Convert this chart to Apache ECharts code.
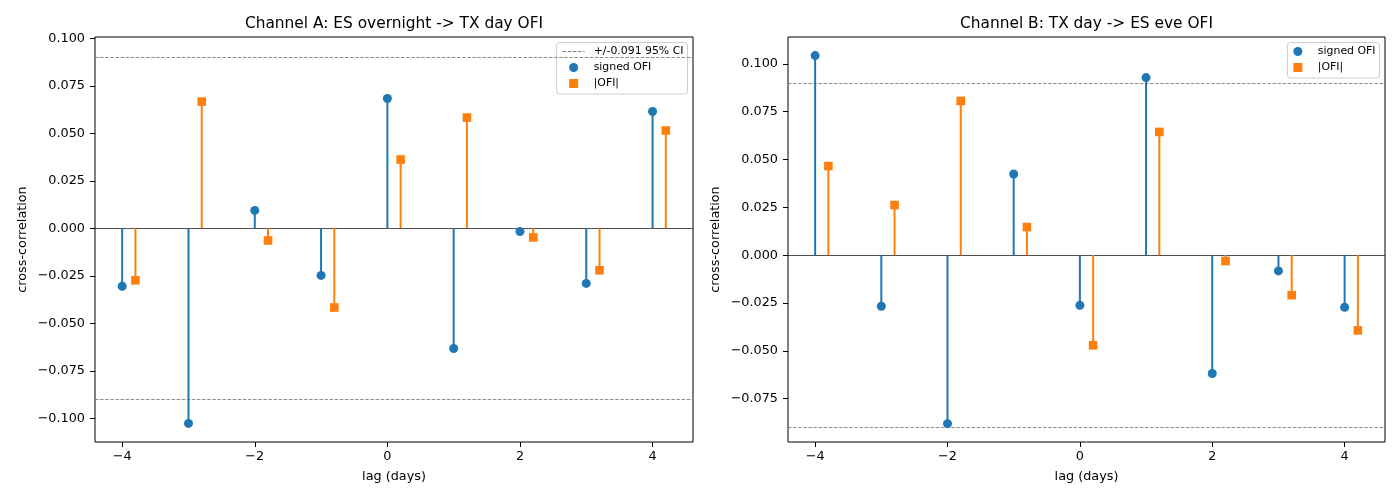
<!DOCTYPE html>
<html>
<head>
<meta charset="utf-8">
<title>cross-correlation stems</title>
<script src="https://cdn.jsdelivr.net/npm/echarts@6/dist/echarts.min.js"></script>
<style>
  html, body { margin: 0; padding: 0; background: #fff; }
  #chart { width: 1400px; height: 500px; }
</style>
</head>
<body>
<div id="chart"></div>
<script>
// lags and cross-correlations
const lags = [-4, -3, -2, -1, 0, 1, 2, 3, 4];
const signedA = [-0.0305, -0.1027, 0.0094, -0.0248, 0.0683, -0.0633, -0.0017, -0.0290, 0.0615];
const absA = [-0.0274, 0.0667, -0.0064, -0.0417, 0.0362, 0.0583, -0.0048, -0.0221, 0.0515];
const signedB = [0.1043, -0.0267, -0.0880, 0.0424, -0.0262, 0.0928, -0.0618, -0.0082, -0.0272];
const absB = [0.0466, 0.0262, 0.0806, 0.0147, -0.0471, 0.0644, -0.0031, -0.0209, -0.0393];
const ci = 0.091;
const absShift = 0.2;   // |OFI| stems drawn next to the signed ones
const xTicks = [-4, -2, 0, 2, 4];
const yTicksA = [-0.1, -0.075, -0.05, -0.025, 0, 0.025, 0.05, 0.075, 0.1];
const yTicksB = [-0.075, -0.05, -0.025, 0, 0.025, 0.05, 0.075, 0.1];

const BLUE = '#1f77b4';
const ORANGE = '#ff7f0e';
const FONT = 'DejaVu Sans';
const minus = s => String(s).replace('-', '\u2212');

const chart = echarts.init(document.getElementById('chart'));

function stems(name, idx, xs, ys, color, shape) {
  return {
    name: name,
    type: 'custom',
    xAxisIndex: idx,
    yAxisIndex: idx,
    itemStyle: { color: color },
    z: 5,
    data: xs.map((x, i) => [x, ys[i]]),
    renderItem: function (params, api) {
      const base = api.coord([api.value(0), 0]);
      const top = api.coord([api.value(0), api.value(1)]);
      const mark = shape === 'circle'
        ? { type: 'circle', shape: { cx: top[0], cy: top[1], r: 4.5 }, style: { fill: color } }
        : { type: 'rect', shape: { x: top[0] - 4.3, y: top[1] - 4.3, width: 8.6, height: 8.6 }, style: { fill: color } };
      return {
        type: 'group',
        children: [
          { type: 'line', shape: { x1: base[0], y1: base[1], x2: top[0], y2: top[1] }, style: { stroke: color, lineWidth: 2 } },
          mark
        ]
      };
    }
  };
}

function refLines(name, idx) {
  return {
    name: name,
    type: 'line',
    xAxisIndex: idx,
    yAxisIndex: idx,
    data: [],
    symbol: 'none',
    lineStyle: { color: '#808080', width: 1, type: [3, 1.4] },
    itemStyle: { color: '#808080' },
    markLine: {
      silent: true,
      symbol: 'none',
      label: { show: false },
      data: [
        { yAxis: ci, lineStyle: { color: '#808080', width: 0.9, type: [3.5, 1.6] } },
        { yAxis: -ci, lineStyle: { color: '#808080', width: 0.9, type: [3.5, 1.6] } },
        { yAxis: 0, lineStyle: { color: '#222', width: 0.8, type: 'solid' } }
      ]
    }
  };
}

function xAxis(idx) {
  return {
    type: 'value',
    gridIndex: idx,
    min: -4.41,
    max: 4.61,
    name: 'lag (days)',
    nameLocation: 'middle',
    nameGap: 28,
    nameTextStyle: { fontFamily: FONT, fontSize: 12.8, color: '#000' },
    axisLine: { show: false, onZero: false },
    splitLine: { show: false },
    axisTick: { show: true, length: 5, customValues: xTicks, lineStyle: { color: '#000', width: 1 } },
    axisLabel: {
      customValues: xTicks, margin: 8,
      fontFamily: FONT, fontSize: 12.8, color: '#000',
      formatter: v => minus(v)
    }
  };
}

function yAxis(idx, lo, hi, ticks) {
  return {
    type: 'value',
    gridIndex: idx,
    min: lo,
    max: hi,
    name: 'cross-correlation',
    nameLocation: 'middle',
    nameGap: 66,
    nameTextStyle: { fontFamily: FONT, fontSize: 12.8, color: '#000' },
    axisLine: { show: false, onZero: false },
    splitLine: { show: false },
    axisTick: { show: true, length: 5, customValues: ticks, lineStyle: { color: '#000', width: 1 } },
    axisLabel: {
      customValues: ticks, margin: 10,
      fontFamily: FONT, fontSize: 12.8, color: '#000',
      formatter: v => minus(v.toFixed(3))
    }
  };
}

function legend(right, names) {
  return {
    right: right,
    top: 42.5,
    orient: 'vertical',
    itemWidth: 22,
    itemHeight: 9,
    itemGap: 5,
    padding: [3.5, 4, 5, 6],
    borderColor: '#cccccc',
    borderWidth: 1,
    borderRadius: 3,
    backgroundColor: 'rgba(255,255,255,0.8)',
    textStyle: { fontFamily: FONT, fontSize: 10.9, color: '#000', padding: [0, 0, 0, 4], lineHeight: 10 },
    data: names,
    selectedMode: false
  };
}

const circleIcon = 'circle';
const squareIcon = 'path://M0,0L10,0L10,10L0,10Z';
const dashIcon = 'path://M0,0h3.5v1h-3.5zM5.1,0h3.5v1h-3.5zM10.2,0h3.5v1h-3.5zM15.3,0h3.5v1h-3.5zM20.4,0h1.6v1h-1.6z';

const option = {
  backgroundColor: '#fff',
  animation: false,
  grid: [
    { left: 95, top: 37, width: 598, height: 405, show: true, borderColor: '#000', borderWidth: 1, backgroundColor: 'transparent' },
    { left: 788, top: 37, width: 597, height: 405, show: true, borderColor: '#000', borderWidth: 1, backgroundColor: 'transparent' }
  ],
  graphic: [
    { type: 'text', x: 394, y: 24, style: { text: 'Channel A: ES overnight -> TX day OFI', fontFamily: FONT, fontSize: 15.4, fill: '#000', textAlign: 'center', textVerticalAlign: 'middle' } },
    { type: 'text', x: 1086.5, y: 24, style: { text: 'Channel B: TX day -> ES eve OFI', fontFamily: FONT, fontSize: 15.4, fill: '#000', textAlign: 'center', textVerticalAlign: 'middle' } }
  ],
  legend: [
    legend(712.5, [
      { name: '+/-0.091 95% CI', icon: dashIcon },
      { name: 'signed OFI', icon: circleIcon },
      { name: '|OFI|', icon: squareIcon }
    ]),
    legend(20.5, [
      { name: 'signed OFI', icon: circleIcon },
      { name: '|OFI|', icon: squareIcon }
    ])
  ],
  xAxis: [xAxis(0), xAxis(1)],
  yAxis: [
    yAxis(0, -0.1125, 0.1007, yTicksA),
    yAxis(1, -0.0976, 0.1140, yTicksB)
  ],
  series: [
    refLines('+/-0.091 95% CI', 0),
    stems('signed OFI', 0, lags, signedA, BLUE, 'circle'),
    stems('|OFI|', 0, lags.map(l => l + absShift), absA, ORANGE, 'square'),
    refLines('ci-b', 1),
    stems('signed OFI', 1, lags, signedB, BLUE, 'circle'),
    stems('|OFI|', 1, lags.map(l => l + absShift), absB, ORANGE, 'square')
  ]
};

chart.setOption(option);
</script>
</body>
</html>
